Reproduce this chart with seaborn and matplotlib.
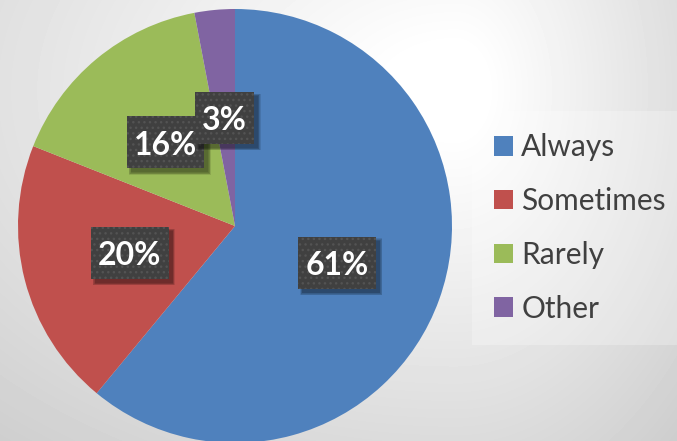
import numpy as np
import matplotlib
matplotlib.use("Agg")
import matplotlib.pyplot as plt
import seaborn as sns
from matplotlib.patches import Rectangle
from matplotlib.transforms import IdentityTransform, offset_copy

# Survey answers and their shares (percent)
categories = ["Always", "Sometimes", "Rarely", "Other"]
shares = [61, 20, 16, 3]
colors = ["#4F81BD", "#C0504D", "#9BBB59", "#8064A2"]

sns.set_theme(style="white")
plt.rcParams["font.family"] = ["Lato", "DejaVu Sans"]
plt.rcParams["hatch.linewidth"] = 1.0

W, H = 677, 441
fig = plt.figure(figsize=(W / 100, H / 100), dpi=100)

# Soft grey backdrop, brightest toward the upper right
bg = fig.add_axes([0, 0, 1, 1], zorder=0)
yy, xx = np.mgrid[0:H, 0:W]
cx, cy = 455, 90
sx = np.where(xx > cx, 230.0, 500.0)
dist = np.hypot((xx - cx) / sx, (yy - cy) / 330.0)
shade = np.clip(1.02 - 0.15 * dist, 0, 1)
bg.imshow(shade, cmap="gray", vmin=0, vmax=1, extent=[0, W, H, 0],
          aspect="auto", interpolation="bilinear")
bg.axis("off")

# Pie
R = 217
ax = fig.add_axes([(235 - R) / W, (H - 226 - R) / H, 2 * R / W, 2 * R / H], zorder=1)
wedges, texts, autotexts = ax.pie(
    shares, colors=sns.color_palette(colors), startangle=90, counterclock=False,
    autopct=lambda p: f"{p:.0f}%", pctdistance=0.5,
    wedgeprops=dict(linewidth=0),
    textprops=dict(color="white", fontsize=23, fontweight="bold"),
)
ax.set_xlim(-1, 1)
ax.set_ylim(-1, 1)
ax.set_aspect("equal")

# Dark dotted label boxes with a soft drop shadow
fig.canvas.draw()
renderer = fig.canvas.get_renderer()
box_h = 52
for i, t in enumerate(autotexts):
    ext = t.get_window_extent(renderer)
    px, py = ax.transData.transform(t.get_position())
    w = ext.width + 14
    x0, y0 = px - w / 2, py - box_h / 2
    z = 10 + 3 * i
    for k in range(5):
        grow = k * 1.2
        ax.add_patch(Rectangle((x0 + 4 - grow / 2, y0 - 4 - grow / 2), w + grow, box_h + grow,
                               transform=IdentityTransform(), facecolor="black",
                               alpha=0.10, linewidth=0, zorder=z, clip_on=False))
    ax.add_patch(Rectangle((x0, y0), w, box_h, transform=IdentityTransform(),
                           facecolor="#404040", edgecolor="#535353", hatch="...",
                           linewidth=0, zorder=z + 1, clip_on=False))
    t.set_transform(offset_copy(ax.transData, fig=fig, y=-3, units="dots"))
    t.set_zorder(z + 2)

# Legend
leg = fig.legend(
    wedges, categories, loc="center left",
    bbox_to_anchor=(481 / W, 1 - 228 / H), frameon=True, fontsize=21.5,
    handlelength=0.62, handleheight=0.62, handletextpad=0.28,
    labelspacing=0.86, borderaxespad=0, borderpad=0.45, labelcolor="#404040",
)
frame = leg.get_frame()
frame.set_facecolor("white")
frame.set_alpha(0.25)
frame.set_edgecolor("none")
frame.set_boxstyle("square")

fig.savefig("out.png", dpi=100)
